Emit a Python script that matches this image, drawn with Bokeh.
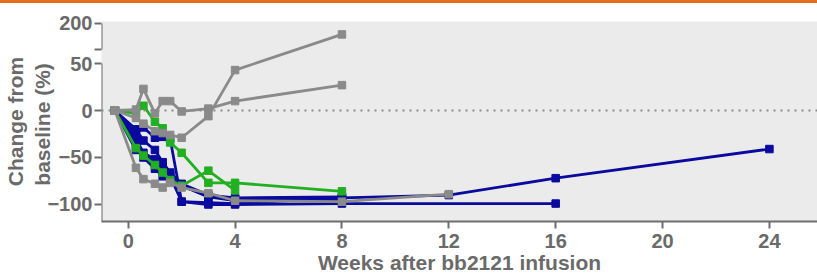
from bokeh.plotting import figure
from bokeh.models import LinearAxis, FixedTicker, Span, Range1d
from bokeh.embed import file_html
from bokeh.resources import INLINE

# ---------------- data ----------------
weeks = [-0.5, 0.29, 0.57, 1.0, 1.29, 1.57, 2.0, 3.0, 4.0, 8.0]

gray_weeks = [weeks, weeks, weeks + [12]]
gray_vals = [
    [0, 1, 23, -3, 10, 10, -1, 2, 10, 27],
    [0, -8, -14, -22, -24, -26, -29, -6, 43, 157],
    [0, -61, -73, -78, -82, -77, -82, -88, -96, -97, -89],
]

green_weeks = [weeks, weeks[:9]]
green_vals = [
    [0, -3, 5, -12, -19, -34, -45, -77, -77, -86],
    [0, -40, -48, -58, -66, -74, -80, -64, -85],
]

blue_weeks = [weeks + [12, 16, 24], weeks + [16], weeks, weeks, weeks]
blue_vals = [
    [0, -25, -18, -29, -28, -30, -97, -98, -99, -93, -90, -72, -41],
    [0, -42, -48, -55, -62, -70, -97, -100, -100, -99, -99],
    [0, -30, -45, -52, -60, -68, -80, -91, -94, -93],
    [0, -35, -50, -62, -70, -75, -80, -92, -96, -95],
    [0, -20, -32, -42, -55, -66, -78, -90, -93, -92],
]

x_ticks = [0, 4, 8, 12, 16, 20, 24]
y_ticks_low = [-100, -50, 0, 50]
y_top_label = "200"

# broken y axis: lower segment linear, upper segment (100..200) compressed
BREAK_LO, BREAK_HI = 100, 200
UP_START, UP_END = 65, 93


def axis_y(v):
    if v <= BREAK_LO:
        return v
    return UP_START + (v - BREAK_LO) * (UP_END - UP_START) / (BREAK_HI - BREAK_LO)


GRAY = "#8a8a8a"
GREEN = "#22b022"
BLUE = "#0a0a9e"
TEXT = "#6a6a6a"
AXIS = "#6e6e6e"
FONT = "Liberation Sans"

p = figure(width=817, height=279, x_range=Range1d(-1.0, 25.8),
           y_range=Range1d(-118.1, 94.7), output_backend="svg",
           toolbar_location=None, min_border_left=100, min_border_right=0,
           min_border_top=21, min_border_bottom=58,
           background_fill_color="#ebebeb", border_fill_color="white",
           outline_line_color=None)
p.grid.visible = False

p.add_layout(Span(location=0, dimension="width", line_color="#8a8a8a",
                  line_width=2, line_dash="2 5"))


def draw(ws, vs, color):
    for w, v in zip(ws, vs):
        yy = [axis_y(a) for a in v]
        p.line(w, yy, line_color=color, line_width=2.8)
        p.scatter(w, yy, marker="square", size=7.5, fill_color=color,
                  line_color=color)


draw(blue_weeks, blue_vals, BLUE)
draw(green_weeks, green_vals, GREEN)
draw(gray_weeks, gray_vals, GRAY)

# x axis
xa = p.xaxis[0]
xa.ticker = FixedTicker(ticks=x_ticks)
xa.axis_label = "Weeks after bb2121 infusion"
xa.axis_line_color = AXIS
xa.axis_line_width = 2
xa.major_tick_line_color = AXIS
xa.major_tick_line_width = 2
xa.major_tick_out = 7
xa.major_tick_in = 0
xa.minor_tick_line_color = None
xa.major_label_text_font = FONT
xa.major_label_text_font_style = "bold"
xa.major_label_text_font_size = "20px"
xa.major_label_text_color = TEXT
xa.major_label_standoff = 5
xa.axis_label_text_font = FONT
xa.axis_label_text_font_style = "bold"
xa.axis_label_text_font_size = "21px"
xa.axis_label_text_color = TEXT
xa.axis_label_standoff = 0

# y axis: ticks and labels (line drawn by two bounded pieces)
ya = p.yaxis[0]
ya.ticker = FixedTicker(ticks=y_ticks_low + [UP_START, UP_END])
ya.major_label_overrides = {UP_START: "", UP_END: y_top_label}
ya.axis_label = "Change from\nbaseline  (%)"
ya.axis_line_color = None
ya.major_tick_line_color = AXIS
ya.major_tick_line_width = 2
ya.major_tick_out = 7
ya.major_tick_in = 0
ya.minor_tick_line_color = None
ya.major_label_text_font = FONT
ya.major_label_text_font_style = "bold"
ya.major_label_text_font_size = "20px"
ya.major_label_text_color = TEXT
ya.major_label_standoff = 2
ya.axis_label_text_font = FONT
ya.axis_label_text_font_style = "bold"
ya.axis_label_text_font_size = "21px"
ya.axis_label_text_color = TEXT
ya.axis_label_standoff = -10

for lo, hi in [(-120, 50), (UP_START, UP_END)]:
    seg = LinearAxis(fixed_location=-1.0, bounds=(lo, hi),
                     ticker=FixedTicker(ticks=[]),
                     axis_line_color=AXIS, axis_line_width=2,
                     major_tick_line_color=None, minor_tick_line_color=None,
                     major_label_text_font_size="0px")
    p.add_layout(seg, "left")

html = file_html(p, INLINE)
bar = ('<div style="position:fixed;top:0;left:0;width:100%;height:3px;'
       'background:#e36d1d;z-index:1000;"></div>')
idx = html.rfind("</body>")
if idx >= 0:
    html = html[:idx] + bar + html[idx:]
open("out.html", "w").write(html)
